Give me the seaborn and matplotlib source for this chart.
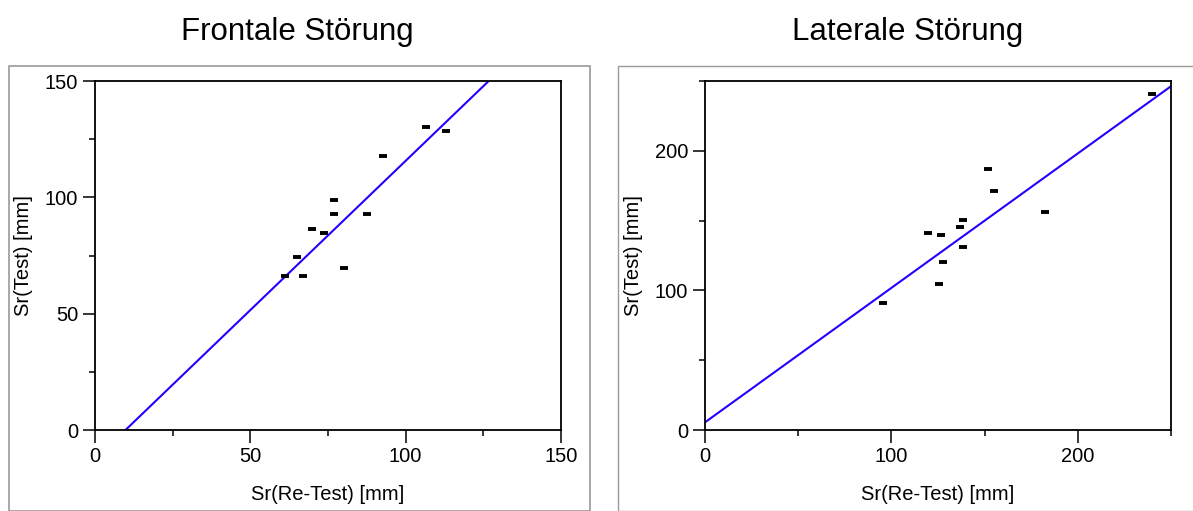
import matplotlib
matplotlib.use("Agg")
import matplotlib.pyplot as plt
from matplotlib.patches import Rectangle
from matplotlib.ticker import MultipleLocator
import numpy as np
import pandas as pd
import seaborn as sns

# ---- data ----
titles = ["Frontale Störung", "Laterale Störung"]
x_label = "Sr(Re-Test) [mm]"
y_label = "Sr(Test) [mm]"

x_front = [61.2, 64.9, 66.9, 70.0, 73.8, 76.9, 76.9, 80.0, 87.5, 92.7, 106.7, 113.0]
y_front = [66.2, 74.5, 66.2, 86.3, 84.6, 98.7, 92.9, 69.5, 92.9, 117.8, 130.3, 128.6]
fit_front = (-12.6, 1.283)          # intercept, slope
lim_front = 150
major_front, minor_front = 50, 25

x_lat = [95.5, 119.5, 125.8, 126.8, 127.8, 137.0, 138.2, 138.2, 151.6, 154.8, 182.5, 239.6]
y_lat = [91.3, 141.0, 104.9, 139.5, 120.1, 145.1, 150.6, 131.2, 186.8, 171.5, 155.9, 240.7]
fit_lat = (5.5, 0.963)
lim_lat = 250
major_lat, minor_lat = 100, 50

# ---- style ----
sns.set_style("ticks")
plt.rcParams["font.family"] = ["Liberation Sans", "DejaVu Sans"]
plt.rcParams["font.size"] = 14.5
for k in ["text.color", "axes.labelcolor", "xtick.color", "ytick.color", "axes.edgecolor"]:
    plt.rcParams[k] = "black"

W, H = 1193, 511
fig = plt.figure(figsize=(W / 100, H / 100), dpi=100)

def px_axes(x0, x1, ytop, ybot):
    return fig.add_axes([x0 / W, 1 - ybot / H, (x1 - x0) / W, (ybot - ytop) / H])

panels = [
    (x_front, y_front, fit_front, lim_front, major_front, minor_front, px_axes(95, 561, 81, 430), 297),
    (x_lat, y_lat, fit_lat, lim_lat, major_lat, minor_lat, px_axes(705, 1171, 81, 430), 908),
]

# panel frames
fig.patches.append(Rectangle((8.5 / W, 0), (590 - 8.5) / W, 1 - 66 / H, transform=fig.transFigure,
                             fill=False, edgecolor="#9a9a9a", linewidth=1.2))
fig.patches.append(Rectangle((618 / W, 0), (1200 - 618) / W, 1 - 66 / H, transform=fig.transFigure,
                             fill=False, edgecolor="#9a9a9a", linewidth=1.0))

for i, (xs, ys, fit, lim, maj, mnr, ax, tx) in enumerate(panels):
    df = pd.DataFrame({"x": xs, "y": ys})
    xl = np.array([0, lim], dtype=float)
    line_df = pd.DataFrame({"x": xl, "y": fit[0] + fit[1] * xl})
    sns.lineplot(data=line_df, x="x", y="y", ax=ax, color="#2200ff", linewidth=1.5)
    sns.scatterplot(data=df, x="x", y="y", ax=ax, marker="_", s=26, color="black",
                    linewidth=2.8, zorder=5)
    ax.set_xlim(0, lim)
    ax.set_ylim(0, lim)
    ax.xaxis.set_major_locator(MultipleLocator(maj))
    ax.xaxis.set_minor_locator(MultipleLocator(mnr))
    ax.yaxis.set_major_locator(MultipleLocator(maj))
    ax.yaxis.set_minor_locator(MultipleLocator(mnr))
    ax.tick_params(which="major", length=9, width=1.1, color="black", labelcolor="black",
                   labelsize=14.5, pad=3)
    ax.tick_params(which="minor", length=4.5, width=1.1, color="black")
    for s in ax.spines.values():
        s.set_visible(True)
        s.set_linewidth(1.3)
        s.set_color("black")
    ax.set_xlabel(x_label, fontsize=14.5, color="black")
    ax.set_ylabel(y_label, fontsize=14.5, color="black")
    ax.xaxis.set_label_coords(0.5, -0.158)
    ax.yaxis.set_label_coords(-0.132, 0.5)
    fig.text(tx / W, 1 - 32 / H, titles[i], ha="center", va="center", fontsize=22.5, color="black")

fig.savefig("out.png", dpi=100)
